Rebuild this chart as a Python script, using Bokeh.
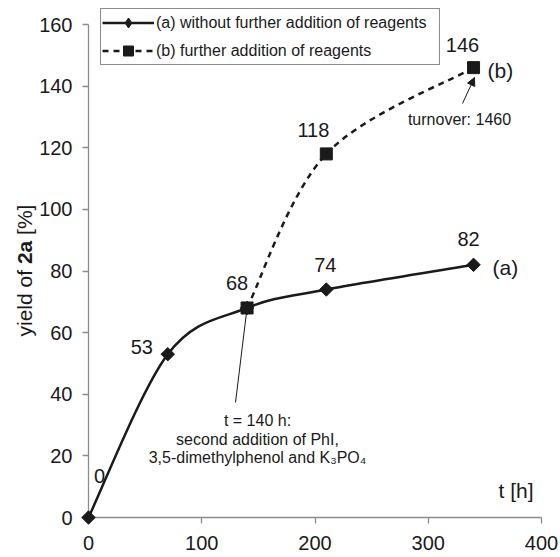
from math import pi, nan
from bokeh.plotting import figure
from bokeh.models import (Range1d, FixedTicker, Legend, LegendItem, Label, LabelSet,
                          ColumnDataSource, Arrow, NormalHead)
from bokeh.core.properties import value
from bokeh.embed import file_html
from bokeh.resources import INLINE

# ---------------- data ----------------
t_a = [0, 70, 140, 210, 340]
yield_a = [0, 53, 68, 74, 82]
t_b = [140, 210, 340]
yield_b = [68, 118, 146]
x_ticks = [0, 100, 200, 300, 400]
y_ticks = [0, 20, 40, 60, 80, 100, 120, 140, 160]
legend_a = "(a) without further addition of reagents"
legend_b = "(b) further addition of reagents"
note_lines = ["t = 140 h:", "second addition of PhI,", "3,5-dimethylphenol and K\u2083PO\u2084"]
turnover_text = "turnover: 1460"
y_title_parts = ["yield of", "2a", "[%]"]
y_title_styles = ["normal", "bold", "normal"]

FONT = "Liberation Sans"
INK = "#1a1a1a"
AXIS = "#8c8c8c"

# layout of the frame (page pixels)
W, H = 560, 557
F_LEFT, F_RIGHT, F_BOTTOM, Y160 = 88, 541, 517, 24
PX_X = (F_RIGHT - F_LEFT) / 400.0
PX_Y = (F_BOTTOM - Y160) / 160.0


def X(px):
    return (px - F_LEFT) / PX_X


def Y(py):
    return (F_BOTTOM - py) / PX_Y


def smooth(xs, ys):
    n = len(xs)
    d = dict(x0=[], y0=[], x1=[], y1=[], cx0=[], cy0=[], cx1=[], cy1=[])
    for i in range(n - 1):
        a, b = max(i - 1, 0), min(i + 2, n - 1)
        d["x0"].append(xs[i]); d["y0"].append(ys[i])
        d["x1"].append(xs[i + 1]); d["y1"].append(ys[i + 1])
        d["cx0"].append(xs[i] + (xs[i + 1] - xs[a]) / 6.0)
        d["cy0"].append(ys[i] + (ys[i + 1] - ys[a]) / 6.0)
        d["cx1"].append(xs[i + 1] - (xs[b] - xs[i]) / 6.0)
        d["cy1"].append(ys[i + 1] - (ys[b] - ys[i]) / 6.0)
    return ColumnDataSource(d)


p = figure(width=W, height=H, x_range=Range1d(0, 400), y_range=Range1d(0, Y(0)),
           output_backend="svg", toolbar_location=None,
           min_border_left=F_LEFT, min_border_right=W - F_RIGHT, min_border_top=0,
           min_border_bottom=H - F_BOTTOM,
           background_fill_color="white", border_fill_color="white")
p.outline_line_color = None
p.grid.visible = False

for ax, ticks, bounds in ((p.xaxis, x_ticks, (0, 400)), (p.yaxis, y_ticks, (0, 160))):
    ax.ticker = FixedTicker(ticks=ticks)
    ax.bounds = bounds
    ax.axis_line_color = AXIS
    ax.axis_line_width = 1.3
    ax.major_tick_line_color = AXIS
    ax.major_tick_line_width = 1.3
    ax.major_tick_out = 6
    ax.major_tick_in = 0
    ax.minor_tick_line_color = None
    ax.major_label_text_font = FONT
    ax.major_label_text_font_size = "20px"
    ax.major_label_text_color = INK
p.xaxis.major_label_standoff = 12
p.yaxis.major_label_standoff = 10

# curves
p.bezier(x0="x0", y0="y0", x1="x1", y1="y1", cx0="cx0", cy0="cy0", cx1="cx1", cy1="cy1",
         source=smooth(t_a, yield_a), line_color=INK, line_width=2.5)
p.bezier(x0="x0", y0="y0", x1="x1", y1="y1", cx0="cx0", cy0="cy0", cx1="cx1", cy1="cy1",
         source=smooth(t_b, yield_b), line_color=INK, line_width=2.5, line_dash="6 5")

# pointer line for the second addition
p.segment(x0=[t_b[0]], y0=[yield_b[0]], x1=[X(235)], y1=[Y(402)], line_color=INK, line_width=1)

# markers
p.scatter(t_a, yield_a, marker="square", angle=pi / 4, size=9.5,
          fill_color=INK, line_color=INK, level="overlay")
p.scatter(t_b, yield_b, marker="square", size=12,
          fill_color=INK, line_color=INK, level="overlay")

# legend-only renderers (nothing drawn in the plot area)
la = p.line(x=[nan, nan], y=[nan, nan], line_color=INK, line_width=2.5)
lb = p.line(x=[nan, nan], y=[nan, nan], line_color=INK, line_width=2.5, line_dash="6 5")
ma = p.scatter(x=[nan], y=[nan], marker="diamond", fill_color=INK, line_color=INK)
mb = p.scatter(x=[nan], y=[nan], marker="square", fill_color=INK, line_color=INK)

legend = Legend(items=[LegendItem(label=legend_a, renderers=[la, ma]),
                       LegendItem(label=legend_b, renderers=[lb, mb])],
                location=(100 - F_LEFT, F_BOTTOM - 65), margin=0, padding=1, spacing=3,
                glyph_width=52, glyph_height=25, label_height=25, label_standoff=2,
                label_width=282,
                label_text_font=FONT, label_text_font_size="16px", label_text_color=INK,
                border_line_color=INK, border_line_width=1,
                background_fill_color="white", background_fill_alpha=1)
p.add_layout(legend)

# data value labels
lab_x = t_a + t_b[1:]
lab_y = yield_a + yield_b[1:]
lab_t = [str(v) for v in lab_y]
dx = [11, -26, -10, -1, -5, -13, -11]
dy = [35, 0, 18, 17, 19, 17, 16]
src = ColumnDataSource(dict(x=lab_x, y=lab_y, text=lab_t, dx=dx, dy=dy))
p.add_layout(LabelSet(x="x", y="y", text="text", x_offset="dx", y_offset="dy", source=src,
                      text_align="center", text_baseline="alphabetic",
                      text_font=value(FONT), text_font_size="20px", text_color=INK))

# series tags
p.add_layout(Label(x=t_a[-1], y=yield_a[-1], text="(a)", x_offset=19, y_offset=-3,
                   text_align="left", text_baseline="alphabetic",
                   text_font=FONT, text_font_size="21px", text_color=INK))
p.add_layout(Label(x=t_b[-1], y=yield_b[-1], text="(b)", x_offset=14, y_offset=-3,
                   text_align="left", text_baseline="alphabetic",
                   text_font=FONT, text_font_size="21px", text_color=INK))

# note for second addition
for line, base in zip(note_lines, (420, 439, 457)):
    p.add_layout(Label(x=X(257), y=Y(base), text=line, text_align="center",
                       text_baseline="alphabetic", text_font=FONT, text_font_size="16px",
                       text_color=INK))

# turnover note and arrow
p.add_layout(Label(x=X(459), y=Y(119), text=turnover_text, text_align="center",
                   text_baseline="alphabetic", text_font=FONT, text_font_size="16px",
                   text_color=INK))
p.add_layout(Arrow(x_start=X(462), y_start=Y(103), x_end=X(474), y_end=Y(77),
                   line_color=INK, line_width=1,
                   end=NormalHead(size=8, fill_color=INK, line_color=INK)))

# axis titles
p.add_layout(Label(x=X(533), y=Y(490), text="t [h]", text_align="right",
                   text_baseline="alphabetic", text_font=FONT, text_font_size="21px",
                   text_color=INK))
ytitle = ColumnDataSource(dict(x=[X(24)] * 3, y=[Y(336), Y(263.6), Y(234.4)],
                               text=y_title_parts, style=y_title_styles))
p.text(x="x", y="y", text="text", source=ytitle, angle=pi / 2,
       text_font=value(FONT), text_font_size=value("21px"), text_font_style="style",
       text_align="left", text_baseline="middle", text_color=INK, level="overlay")

open("out.html", "w").write(file_html(p, INLINE))
